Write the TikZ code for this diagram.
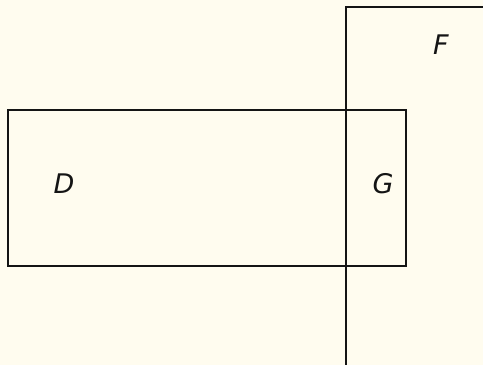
\documentclass[tikz,border=0pt]{standalone}
\usepackage{fontspec}
\setmainfont{DejaVu Sans}
\definecolor{bgcream}{HTML}{FFFCEF}
\definecolor{edge}{HTML}{141414}
\begin{document}
\begin{tikzpicture}[x=1pt,y=-1pt,
  region/.style={draw=edge,line width=2pt},
  lbl/.style={font=\fontsize{27}{32}\selectfont\itshape,inner sep=0pt,text=edge}]
\useasboundingbox (0,0) rectangle (483,365);
\fill[bgcream] (0,0) rectangle (483,365);
\draw[region] (483,7) -- (346,7) -- (346,365);
\draw[region] (8,110) rectangle (346,266);
\draw[region] (346,110) rectangle (406,266);
\node[lbl] (D) at (64,184) {D};
\node[lbl] (G) at (383,184) {G};
\node[lbl] (F) at (441,45) {F};
\end{tikzpicture}
\end{document}
